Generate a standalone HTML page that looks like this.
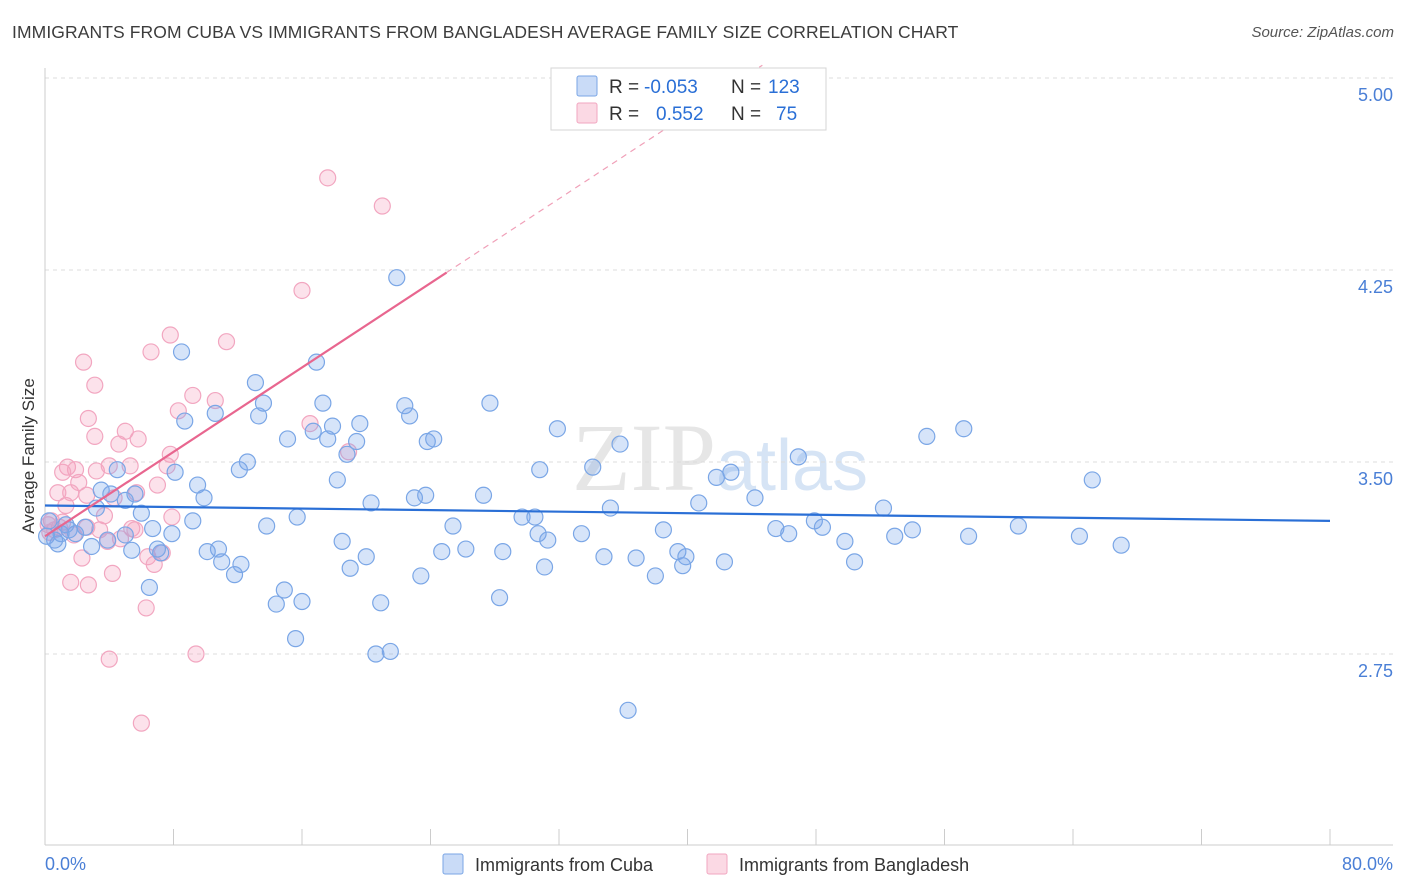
<!DOCTYPE html>
<html><head><meta charset="utf-8">
<style>
body{margin:0;background:#fff;font-family:"Liberation Sans",sans-serif;}
#wrap{position:relative;width:1406px;height:892px;overflow:hidden;}
.title{position:absolute;left:12px;top:22px;font-size:17.5px;color:#3c3c3c;letter-spacing:0.1px}
.source{position:absolute;right:12px;top:24px;font-size:15px;color:#555;font-style:italic}
</style></head>
<body>
<div id="wrap">
<div class="title">IMMIGRANTS FROM CUBA VS IMMIGRANTS FROM BANGLADESH AVERAGE FAMILY SIZE CORRELATION CHART</div>
<div class="source">Source: ZipAtlas.com</div>
<svg id="chart" width="1406" height="892" style="position:absolute;left:0;top:0"></svg>
</div>
<script>
const cubaX=[21.9,8.5,16.9,13.1,13.6,17.3,22.4,27.7,10.6,13.3,22.7,8.7,17.9,19.6,31.9,57.2,54.9,15.1,16.7,23.8,24.2,17.6,19.4,35.8,12.6,12.1,18.8,8.1,4.5,30.8,34.1,46.9,41.8,42.7,65.2,18.2,9.5,3.5,5.6,9.9,4.1,23.0,23.7,27.3,20.3,44.2,3.2,40.7,35.2,52.2,5.0,6.0,9.2,15.7,13.8,29.7,30.5,25.4,38.5,47.9,45.5,46.3,54.0,60.6,48.4,52.9,57.5,64.4,67.0,33.4,30.7,31.3,18.5,6.7,7.9,5.0,1.5,0.8,2.9,3.9,5.4,7.2,10.1,10.8,7.0,24.7,26.2,28.5,31.1,20.0,34.8,36.8,39.4,39.9,39.7,42.3,50.4,49.8,11.0,12.2,11.8,19.0,23.4,38.0,6.5,14.9,14.4,16.0,20.9,28.3,15.6,20.6,21.5,36.3,0.25,1.0,1.9,0.6,1.3,2.5,0.1];
const cubaY=[4.22,3.93,3.89,3.81,3.73,3.73,3.72,3.73,3.69,3.68,3.68,3.66,3.64,3.65,3.63,3.63,3.60,3.59,3.62,3.58,3.59,3.59,3.58,3.57,3.50,3.47,3.53,3.46,3.47,3.47,3.48,3.52,3.44,3.46,3.43,3.43,3.41,3.39,3.375,3.36,3.375,3.36,3.37,3.37,3.34,3.36,3.32,3.34,3.32,3.32,3.35,3.30,3.27,3.285,3.25,3.285,3.285,3.25,3.235,3.27,3.24,3.22,3.235,3.25,3.245,3.21,3.21,3.21,3.175,3.22,3.22,3.195,3.19,3.24,3.22,3.215,3.235,3.18,3.17,3.195,3.155,3.145,3.15,3.16,3.16,3.15,3.16,3.15,3.09,3.13,3.13,3.125,3.15,3.13,3.095,3.11,3.11,3.19,3.11,3.10,3.06,3.085,3.055,3.055,3.01,3.00,2.945,2.955,2.95,2.97,2.81,2.75,2.76,2.53,3.27,3.22,3.22,3.195,3.255,3.245,3.21];
const bangX=[17.6,21.0,16.0,7.8,11.3,6.6,2.4,3.1,9.2,10.6,8.3,2.7,16.5,5.0,3.1,5.8,4.6,7.8,18.9,1.4,1.9,3.2,1.1,4.0,5.3,7.6,2.1,7.0,0.8,1.6,2.6,4.3,5.7,1.3,0.4,0.9,2.6,3.4,5.4,7.9,4.7,3.9,6.4,7.3,6.8,2.3,1.6,2.7,4.2,6.3,4.0,9.4,6.0,0.2,0.6,1.1,1.8,0.3,3.7,5.6];
const bangY=[4.61,4.50,4.17,3.996,3.97,3.93,3.89,3.80,3.76,3.74,3.70,3.67,3.65,3.62,3.60,3.59,3.57,3.53,3.54,3.48,3.47,3.465,3.46,3.485,3.485,3.485,3.42,3.41,3.38,3.38,3.37,3.36,3.38,3.33,3.27,3.245,3.245,3.235,3.24,3.285,3.20,3.19,3.13,3.145,3.10,3.125,3.03,3.02,3.065,2.93,2.73,2.75,2.48,3.255,3.235,3.265,3.215,3.225,3.29,3.235];
const cubaTrend=[3.33,3.27];      // y at x=0 and x=80
const bangTrend=[3.21,0.0412];    // intercept, slope per %
const yTicks=[5.00,4.25,3.50,2.75];
const yTickLabels=["5.00","4.25","3.50","2.75"];
const xTicks=[0,8,16,24,32,40,48,56,64,72,80];

const X0=45,X1=1330,PT=68,PB=845;
function sx(v){return X0+(v/80)*(X1-X0);}
function sy(v){return 462-(v-3.5)*256;}
const svg=document.getElementById('chart');
const NS='http://www.w3.org/2000/svg';
function mk(tag,attrs,parent){const e=document.createElementNS(NS,tag);for(const k in attrs)e.setAttribute(k,attrs[k]);(parent||svg).appendChild(e);return e;}

// watermark
const wm=mk('text',{x:720,y:490,'text-anchor':'middle','font-size':'96','font-family':'Liberation Serif, serif',fill:'#e6e6e6'});


wm.innerHTML='ZIP<tspan font-family="Liberation Sans, sans-serif" font-size="72" fill="#d6e4f5">atlas</tspan>';

// gridlines and y labels
yTicks.forEach((t,i)=>{
  const g=mk('line',{x1:X0,x2:1393,y1:sy(t),y2:sy(t),stroke:'#dcdcdc','stroke-dasharray':'4,4'});
  
  
  const l=mk('text',{x:1393,y:sy(t)+23,'text-anchor':'end','font-size':'18',fill:'#4a7fd6'});
  
  
  l.textContent=yTickLabels[i];
});
// axes
const ya=mk('line',{x1:X0,x2:X0,y1:PT,y2:PB,stroke:'#ccc'});


const xa=mk('line',{x1:X0,x2:1393,y1:PB,y2:PB,stroke:'#ccc'});


xTicks.forEach(t=>{
  const tk=mk('line',{x1:sx(t),x2:sx(t),y1:PB,y2:PB-16,stroke:'#ccc'});
  
  
});
const xl0=mk('text',{x:45,y:870,'font-size':'18',fill:'#4a7fd6'});


xl0.textContent='0.0%';
const xl1=mk('text',{x:1393,y:870,'text-anchor':'end','font-size':'18',fill:'#4a7fd6'});


xl1.textContent='80.0%';
const yt=mk('text',{x:34,y:456,'text-anchor':'middle','font-size':'17',fill:'#333',transform:'rotate(-90 34 456)'});


yt.textContent='Average Family Size';

// points
for(let i=0;i<bangX.length;i++){
  const c=mk('circle',{cx:sx(bangX[i]),cy:sy(bangY[i]),r:8,fill:'rgba(244,160,188,0.3)',stroke:'#f2a6c0','stroke-width':1.2});
  
  
}
for(let i=0;i<cubaX.length;i++){
  const c=mk('circle',{cx:sx(cubaX[i]),cy:sy(cubaY[i]),r:8,fill:'rgba(120,165,235,0.3)',stroke:'#7aa6e6','stroke-width':1.2});
  
  
}
// trend lines
const bt=mk('line',{x1:sx(0),y1:sy(cubaTrend[0]),x2:sx(80),y2:sy(cubaTrend[1]),stroke:'#2a6fd6','stroke-width':2.2});


const pEnd=(5.05-bangTrend[0])/bangTrend[1];
const pd=mk('line',{x1:sx(25),y1:sy(bangTrend[0]+bangTrend[1]*25),x2:sx(pEnd),y2:sy(bangTrend[0]+bangTrend[1]*pEnd),stroke:'#f0a0b8','stroke-width':1.2,'stroke-dasharray':'6,5'});


const pt=mk('line',{x1:sx(0),y1:sy(bangTrend[0]),x2:sx(25),y2:sy(bangTrend[0]+bangTrend[1]*25),stroke:'#e8668f','stroke-width':2.2});



// top legend
const lg=mk('g',{});


mk('rect',{x:551,y:68,width:275,height:62,fill:'#fff',stroke:'#d5d5d5'},lg);
const rows=[['-0.053','123','rgba(120,165,235,0.4)','#7aa6e6',86],['0.552','75','rgba(244,160,188,0.4)','#f2a6c0',113]];
rows.forEach((r,i)=>{
  const sw=mk('rect',{x:577,y:r[4]-10,width:20,height:20,fill:r[2],stroke:r[3],rx:2},lg);
  
  
  const t=mk('text',{x:609,y:r[4]+7,'font-size':'19',fill:'#333'},lg);
  
  
  t.innerHTML='R = <tspan x="'+(i?656:644)+'" fill="#2a6fd6">'+r[0]+'</tspan><tspan x="731">N =</tspan><tspan x="'+(i?776:768)+'" fill="#2a6fd6">'+r[1]+'</tspan>';
});

// bottom legend
const bl=[['Immigrants from Cuba','rgba(120,165,235,0.4)','#7aa6e6',443,475],['Immigrants from Bangladesh','rgba(244,160,188,0.4)','#f2a6c0',707,739]];
bl.forEach((b,i)=>{
  const s=mk('rect',{x:b[3],y:854,width:20,height:20,fill:b[1],stroke:b[2],rx:2});
  
  
  const t=mk('text',{x:b[4],y:871,'font-size':'18',fill:'#333'});
  
  
  t.textContent=b[0];
});
</script>
</body></html>
